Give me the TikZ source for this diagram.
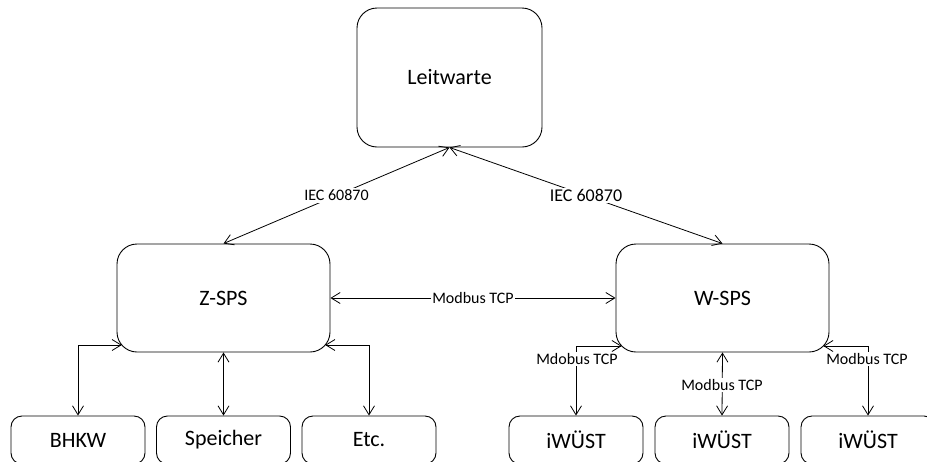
\documentclass[tikz,border=0pt]{standalone}
\usepackage{fontspec}
\setmainfont{Carlito}
\usetikzlibrary{arrows.meta}
\tikzset{
  box/.style={draw, line width=0.9pt, rounded corners=20pt, align=center,
    font=\fontsize{22}{26}\selectfont},
  bigbox/.style={box, minimum width=185pt, minimum height=139pt},
  plcbox/.style={box, minimum width=213pt, minimum height=108pt},
  fieldbox/.style={box, rounded corners=11pt, minimum width=134pt, minimum height=48pt},
  link/.style={line width=0.8pt, {Straight Barb[length=9pt,width=11pt]}-{Straight Barb[length=9pt,width=11pt]}},
  tag/.style={fill=white, inner sep=1.5pt, font=\fontsize{16}{18}\selectfont},
}
\begin{document}
\begin{tikzpicture}[x=1pt, y=-1pt]
  \useasboundingbox (0,0) rectangle (927,461);
  \clip (0,0) rectangle (927,461);

  % control room and the two PLCs
  \node[bigbox] (lw) at (449.5,77.5) {Leitwarte};
  \node[plcbox] (z) at (223.5,298) {Z-SPS};
  \node[plcbox] (w) at (722.5,298) {W-SPS};

  % field devices
  \node[fieldbox] (bhkw) at (78,440) {BHKW};
  \node[fieldbox] (sp) at (223.5,440) {Speicher};
  \node[fieldbox] (etc) at (369,440) {Etc.};
  \node[fieldbox] (i1) at (576,440) {iWÜST};
  \node[fieldbox] (i2) at (722,440) {iWÜST};
  \node[fieldbox] (i3) at (868,440) {iWÜST};

  % attachment points on the rounded lower corners
  \coordinate (zl) at (121.8,345);
  \coordinate (zr) at (325.2,345);
  \coordinate (wl) at (621.7,346);
  \coordinate (wr) at (823.3,346);

  % upper level links
  \draw[link] (lw.south) -- node[tag] {IEC 60870} (z.north);
  \draw[link] (lw.south) -- node[tag, font=\fontsize{18}{20}\selectfont] {IEC 60870} (w.north);
  \draw[link] (z.east) -- node[tag] {Modbus TCP} (w.west);

  % Z-SPS to its devices
  \draw[link] (zl) -| (bhkw.north);
  \draw[link] (z.south) -- (sp.north);
  \draw[link] (zr) -| (etc.north);

  % W-SPS to the iWÜST units
  \draw[link] (wl) -| (i1.north);
  \draw[link] (w.south) -- (i2.north);
  \draw[link] (wr) -| (i3.north);
  \node[tag] at (577,359) {Mdobus TCP};
  \node[tag] at (722,385) {Modbus TCP};
  \node[tag] at (867,359) {Modbus TCP};
\end{tikzpicture}
\end{document}
